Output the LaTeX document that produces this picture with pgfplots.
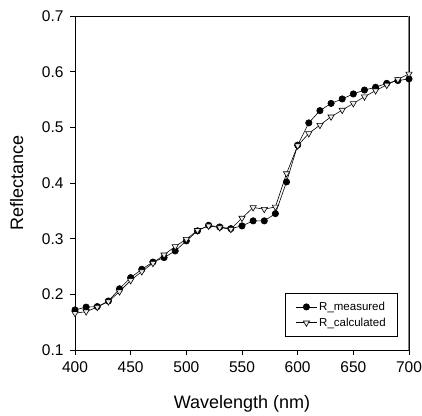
\documentclass[border=0pt]{standalone}
\usepackage{fontspec}
\setmainfont{Liberation Sans}
\usepackage{pgfplots}
\pgfplotsset{compat=1.18}
\begin{document}
\begin{tikzpicture}
\begin{axis}[
  at={(0,0)}, anchor=south west,
  scale only axis, width=334bp, height=334bp,
  xmin=400, xmax=700, ymin=0.1, ymax=0.7,
  xtick={400,450,...,700}, ytick={0.1,0.2,...,0.7},
  yticklabel style={/pgf/number format/fixed, /pgf/number format/precision=1, xshift=-3bp},
  xticklabel style={yshift=-3bp},
  /pgf/number format/assume math mode=true,
  xtick pos=left, ytick pos=left,
  tick align=outside, major tick length=5bp,
  tick style={black, line width=0.6pt},
  axis line style={line width=0.6pt},
  ticklabel style={font=\fontsize{15.5bp}{18bp}\selectfont},
  xlabel={Wavelength (nm)}, ylabel={Reflectance},
  label style={font=\fontsize{18bp}{21bp}\selectfont},
  xlabel style={at={(axis description cs:0.5,-0.1737)}, anchor=base, inner sep=0pt},
  ylabel style={at={(axis description cs:-0.1946,0.5)}, anchor=north, inner sep=0pt, rotate=0},
  legend style={at={(rel axis cs:0.967,0.039)}, anchor=south east,
    font=\fontsize{11.5bp}{13bp}\selectfont, draw=black, line width=0.6pt,
    inner xsep=10bp, inner ysep=7bp, row sep=2bp},
  legend cell align=left,
  legend image code/.code={\draw[mark repeat=2,mark phase=2] plot coordinates {(0bp,0bp)(10.5bp,0bp)(21bp,0bp)};},
]
\addplot[black, line width=0.6pt, mark=*, mark size=3.2bp, mark options={fill=black}] coordinates {
(400,0.172)(410,0.177)(420,0.178)(430,0.188)(440,0.210)(450,0.230)(460,0.245)(470,0.258)
(480,0.266)(490,0.278)(500,0.296)(510,0.314)(520,0.324)(530,0.321)(540,0.318)(550,0.323)
(560,0.332)(570,0.332)(580,0.345)(590,0.402)(600,0.468)(610,0.508)(620,0.530)(630,0.543)
(640,0.551)(650,0.560)(660,0.567)(670,0.572)(680,0.579)(690,0.584)(700,0.587)};
\addlegendentry{R\_measured}
\addplot[black, line width=0.6pt, mark=triangle*, mark size=3.6bp, mark options={fill=white!85!gray, rotate=180}] coordinates {
(400,0.166)(410,0.169)(420,0.177)(430,0.187)(440,0.205)(450,0.225)(460,0.241)(470,0.256)
(480,0.271)(490,0.286)(500,0.299)(510,0.315)(520,0.323)(530,0.320)(540,0.317)(550,0.337)
(560,0.356)(570,0.353)(580,0.357)(590,0.417)(600,0.467)(610,0.489)(620,0.504)(630,0.519)
(640,0.531)(650,0.543)(660,0.555)(670,0.566)(680,0.576)(690,0.586)(700,0.596)};
\addlegendentry{R\_calculated}
\draw[gray, line width=1.6pt] (rel axis cs:1,0) -- (rel axis cs:1,1);
\end{axis}
\pgfresetboundingbox
\path[use as bounding box] (-75bp,-66bp) rectangle (347bp,350bp);
\end{tikzpicture}
\end{document}
